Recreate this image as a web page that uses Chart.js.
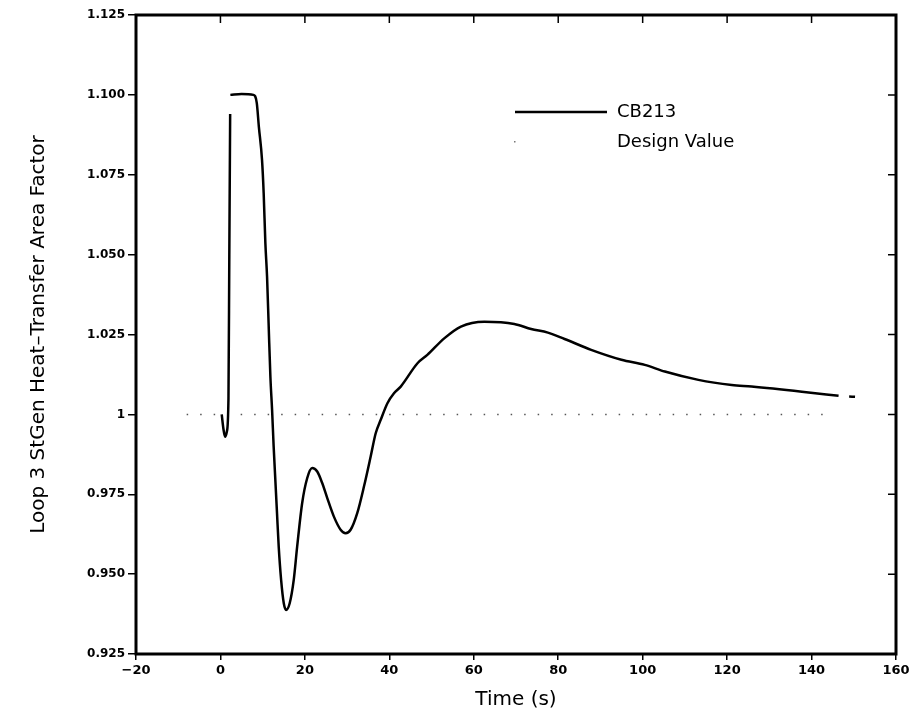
<!DOCTYPE html>
<html>
<head>
<meta charset="utf-8">
<script src="https://cdn.jsdelivr.net/npm/chart.js@4/dist/chart.umd.min.js"></script>
<style>
  html, body { margin: 0; padding: 0; background: #ffffff; }
  #wrap { width: 916px; height: 724px; position: relative; }
</style>
</head>
<body>
<div id="wrap"><canvas id="c" width="916" height="724"></canvas></div>
<script>
// ---- data ----
const timeSeconds = [0.3, 0.7, 1.1, 1.5, 1.9, 2.1, 2.3, 2.32, 2.35, 5.0, 7.8, 8.6, 9.1, 9.85, 10.24, 10.64, 11.04, 11.43, 11.83, 12.23,
  12.6, 13.0, 13.4, 13.8, 14.37, 15.0, 15.55, 16.4, 17.36, 18.17, 19.35, 20.54, 21.73, 22.92, 24.1, 25.3, 26.87, 28.46, 29.64,
  30.83, 32.4, 33.99, 35.58, 36.77, 37.96, 39.55, 41.1, 42.7, 46.67, 49.0, 53.0, 56.96, 62.5, 69.6, 73.6, 77.55, 81.5, 87.8,
  94.96, 100.5, 105.25, 113.2, 121.1, 125.8, 137.7, 146.4, 147.5, 148.9, 150.3];
const cb213Factor = [1.000, 0.9955, 0.993, 0.9945, 1.005, 1.05, 1.094, null, 1.100, 1.1003, 1.100, 1.0975, 1.090, 1.0796, 1.0692, 1.0536, 1.0431, 1.0275, 1.0118, 1.0014,
  0.990, 0.9795, 0.969, 0.9586, 0.9482, 0.9409, 0.9388, 0.9409, 0.9482, 0.9586, 0.9722, 0.980, 0.9832, 0.9821, 0.9785, 0.9738, 0.9680, 0.9639, 0.9628,
  0.9639, 0.9691, 0.9774, 0.9868, 0.9941, 0.9983, 1.0035, 1.0066, 1.0087, 1.0160, 1.0186, 1.0238, 1.0275, 1.0290, 1.0283, 1.0267, 1.0256, 1.0236, 1.0202,
  1.0171, 1.0155, 1.0134, 1.0108, 1.0092, 1.0087, 1.0071, 1.0058, null, 1.0056, 1.0055];
const designTime = [-8, 145];
const designValue = [1, 1];
const xTickValues = [-20, 0, 20, 40, 60, 80, 100, 120, 140, 160];
const xTickLabels = ['\u221220', '0', '20', '40', '60', '80', '100', '120', '140', '160'];
const yTickValues = [0.925, 0.950, 0.975, 1.000, 1.025, 1.050, 1.075, 1.100, 1.125];
const yTickLabels = ['0.925', '0.950', '0.975', '1', '1.025', '1.050', '1.075', '1.100', '1.125'];
const seriesNames = ['CB213', 'Design Value'];

const cbPoints = timeSeconds.map((t, i) => ({ x: t, y: cb213Factor[i] }));
const designPoints = designTime.map((t, i) => ({ x: t, y: designValue[i] }));

const FONT = 'DejaVu Sans';

const framePlugin = {
  id: 'frame',
  afterDraw(chart) {
    const ctx = chart.ctx;
    const a = chart.chartArea;
    const xs = chart.scales.x, ys = chart.scales.y;
    ctx.save();
    ctx.strokeStyle = '#000';
    ctx.lineWidth = 3;
    ctx.strokeRect(a.left, a.top, a.right - a.left, a.bottom - a.top);
    ctx.lineWidth = 1.5;
    ctx.beginPath();
    xTickValues.forEach(v => {
      const px = xs.getPixelForValue(v);
      ctx.moveTo(px, a.top); ctx.lineTo(px, a.top + 8);
    });
    yTickValues.forEach(v => {
      const py = ys.getPixelForValue(v);
      ctx.moveTo(a.right, py); ctx.lineTo(a.right - 8, py);
    });
    ctx.stroke();
    // legend
    ctx.lineWidth = 2.5;
    ctx.beginPath();
    ctx.moveTo(515, 112); ctx.lineTo(607, 112);
    ctx.stroke();
    ctx.fillStyle = '#777';
    ctx.fillRect(514, 141, 1.5, 1.5);
    ctx.fillStyle = '#000';
    ctx.font = '18px "' + FONT + '"';
    ctx.textBaseline = 'middle';
    ctx.textAlign = 'left';
    ctx.fillText(seriesNames[0], 617, 112);
    ctx.fillText(seriesNames[1], 617, 142);
    ctx.restore();
  }
};

new Chart(document.getElementById('c'), {
  type: 'line',
  data: {
    datasets: [
      {
        label: seriesNames[0],
        data: cbPoints,
        borderColor: '#000',
        borderWidth: 2.5,
        pointRadius: 0,
        fill: false,
        spanGaps: false,
        cubicInterpolationMode: 'monotone'
      },
      {
        label: seriesNames[1],
        data: designPoints,
        borderColor: '#555',
        borderWidth: 1.5,
        borderDash: [1.5, 12],
        pointRadius: 0,
        fill: false
      }
    ]
  },
  options: {
    responsive: false,
    animation: false,
    layout: { padding: { left: 0, top: 15, right: 20, bottom: 0 } },
    plugins: { legend: { display: false }, tooltip: { enabled: false } },
    scales: {
      x: {
        type: 'linear',
        min: -20, max: 160,
        afterBuildTicks: s => { s.ticks = xTickValues.map(v => ({ value: v })); },
        afterFit: s => { s.height = 70; },
        ticks: {
          callback: (v, i) => xTickLabels[i],
          color: '#000',
          font: { family: FONT, size: 13, weight: 'bold' },
          padding: 3,
          maxRotation: 0
        },
        grid: { drawOnChartArea: false, drawTicks: true, tickLength: 6, color: '#000', lineWidth: 1.5 },
        border: { display: false },
        title: {
          display: true, text: 'Time (s)', color: '#000',
          font: { family: FONT, size: 20 },
          padding: { top: 0, bottom: 12 }
        }
      },
      y: {
        type: 'linear',
        min: 0.925, max: 1.125,
        afterBuildTicks: s => { s.ticks = yTickValues.map(v => ({ value: v })); },
        afterFit: s => { s.width = 136; },
        ticks: {
          callback: (v, i) => yTickLabels[i],
          color: '#000',
          font: { family: FONT, size: 12, weight: 'bold' },
          padding: 3
        },
        grid: { drawOnChartArea: false, drawTicks: true, tickLength: 8, color: '#000', lineWidth: 1.5 },
        border: { display: false },
        title: {
          display: true, text: 'Loop 3 StGen Heat\u2013Transfer Area Factor', color: '#000',
          font: { family: FONT, size: 20 },
          padding: { top: 27, bottom: 0 }
        }
      }
    }
  },
  plugins: [framePlugin]
});
</script>
</body>
</html>
